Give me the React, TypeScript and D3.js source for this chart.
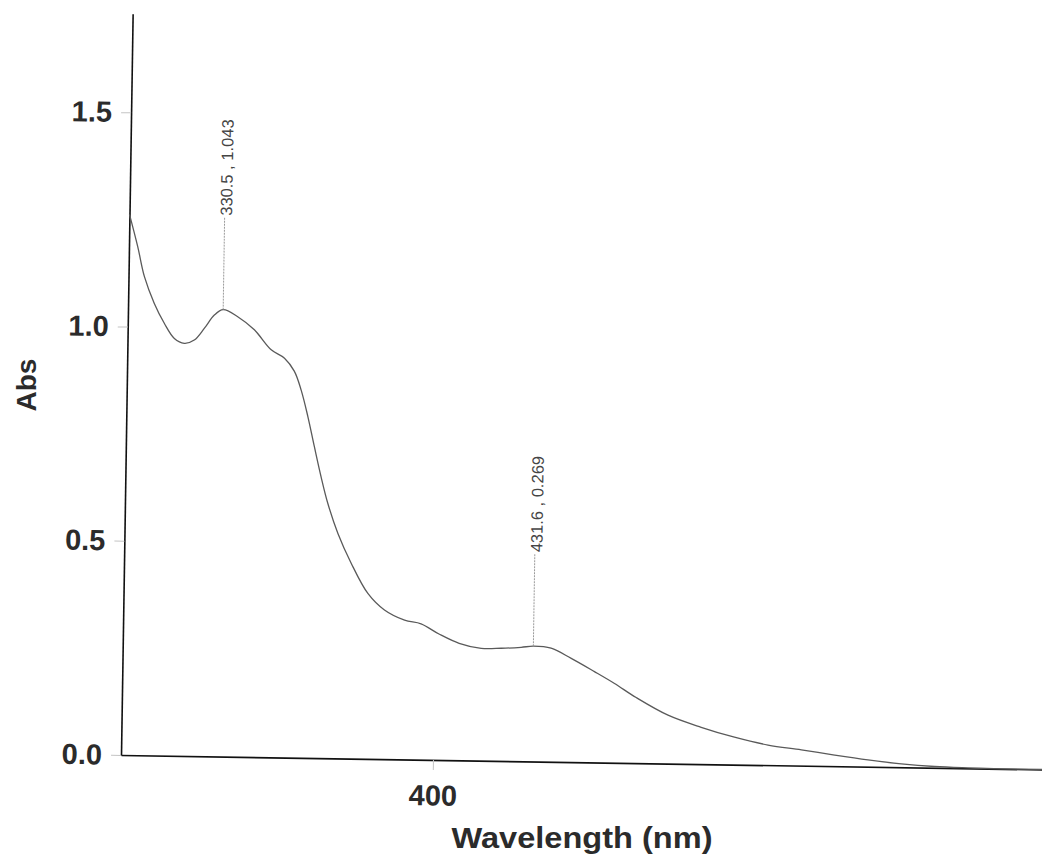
import React, { useEffect, useRef } from 'react';
import * as d3 from 'd3';

// spectrum
const wavelengths = [300, 302.8, 305.1, 308.4, 311.7, 315.0, 318.2, 321.4, 324.6, 327.7, 330.5, 335.2, 340.6, 346.1, 350.4, 353.6, 355.9, 358.2, 360.4, 362.7, 365.0, 368.4, 372.8, 378.3, 383.7, 390.2, 395.5, 401.3, 407.8, 414.9, 421.3, 427.7, 431.6, 437.3, 443.8, 451.3, 457.8, 464.8, 475.1, 485.8, 496.5, 507.3, 518.0, 528.7, 539.4, 550.1, 560.8, 571.5, 582.2, 595, 600];
const absorbance = [1.262, 1.187, 1.117, 1.055, 1.009, 0.974, 0.963, 0.971, 0.999, 1.030, 1.043, 1.027, 0.997, 0.951, 0.932, 0.902, 0.858, 0.796, 0.727, 0.657, 0.595, 0.525, 0.456, 0.386, 0.348, 0.325, 0.317, 0.294, 0.273, 0.262, 0.263, 0.266, 0.269, 0.265, 0.242, 0.212, 0.185, 0.153, 0.113, 0.086, 0.064, 0.047, 0.037, 0.026, 0.016, 0.008, 0.003, 0.001, 0, 0, 0];

const peakNm = [330.5, 431.6];
const peakAbs = [1.043, 0.269];
const peakLabels = ['330.5 , 1.043', '431.6 , 0.269'];

const yTicks = [0, 0.5, 1.0, 1.5];
const xTicks = [400];

const FONT = '"Liberation Sans", Arial, sans-serif';

const Spectrum = () => {
    const ref = useRef<SVGSVGElement>(null);

    useEffect(() => {
        const width = 1042;
        const height = 859;
        const svg = d3.select(ref.current);
        svg.selectAll('*').remove();
        svg.attr('width', width).attr('height', height);

        const origin = { x: 121, y: 755 };

        const x = d3.scaleLinear().domain([300, 600]).range([origin.x, origin.x + 936]);
        const y = d3.scaleLinear().domain([0, 1.73]).range([origin.y, origin.y - 1.73 * 428.5]);

        // the scan is tilted a little, so the plot is too
        const g = svg.append('g').attr('transform', `rotate(0.9, ${origin.x}, ${origin.y})`);

        // y axis
        const yAxis = g
            .append('g')
            .attr('transform', `translate(${origin.x},0)`)
            .call(d3.axisLeft(y).tickValues(yTicks).tickFormat(d3.format('.1f')).tickSize(10).tickSizeOuter(0).tickPadding(9));
        yAxis.select('.domain').attr('stroke', '#111').attr('stroke-width', 1.6);
        yAxis.selectAll('.tick line').attr('stroke', '#c4c4c4');
        yAxis.selectAll('.tick text')
            .attr('fill', '#2b2b2b')
            .attr('font-family', FONT)
            .attr('font-weight', 'bold')
            .attr('font-size', 29);

        // x axis
        const xAxis = g
            .append('g')
            .attr('transform', `translate(0,${origin.y})`)
            .call(d3.axisBottom(x).tickValues(xTicks).tickFormat(d3.format('d')).tickSize(10).tickSizeOuter(0).tickPadding(15));
        xAxis.select('.domain').attr('stroke', '#111').attr('stroke-width', 1.6);
        xAxis.selectAll('.tick line').attr('stroke', '#c4c4c4');
        xAxis.selectAll('.tick text')
            .attr('fill', '#2b2b2b')
            .attr('font-family', FONT)
            .attr('font-weight', 'bold')
            .attr('font-size', 29);

        // curve
        const pts = wavelengths.map((w, i) => [w, absorbance[i]] as [number, number]);
        const line = d3
            .line<[number, number]>()
            .x((d) => x(d[0]))
            .y((d) => y(d[1]))
            .curve(d3.curveCatmullRom.alpha(0.5));
        g.append('path')
            .attr('d', line(pts))
            .attr('fill', 'none')
            .attr('stroke', '#5a5a5a')
            .attr('stroke-width', 1.3);

        // peak markers
        peakNm.forEach((nm, i) => {
            const px = x(nm);
            const top = y(peakAbs[i] + 0.217);
            g.append('line')
                .attr('x1', px)
                .attr('x2', px)
                .attr('y1', y(peakAbs[i]))
                .attr('y2', top)
                .attr('stroke', '#9a9a9a')
                .attr('stroke-width', 1)
                .attr('stroke-dasharray', '2,1');
            g.append('text')
                .attr('transform', `translate(${px},${top - 1}) rotate(-90)`)
                .attr('dy', '0.45em')
                .attr('fill', '#444')
                .attr('font-family', FONT)
                .attr('font-size', 16.5)
                .text(peakLabels[i]);
        });

        // axis titles
        svg.append('text')
            .attr('x', 582)
            .attr('y', 848)
            .attr('text-anchor', 'middle')
            .attr('fill', '#2b2b2b')
            .attr('font-family', FONT)
            .attr('font-weight', 'bold')
            .attr('font-size', 29)
            .attr('textLength', 261)
            .attr('lengthAdjust', 'spacingAndGlyphs')
            .text('Wavelength (nm)');

        svg.append('text')
            .attr('transform', 'translate(36,385) rotate(-90)')
            .attr('text-anchor', 'middle')
            .attr('fill', '#2b2b2b')
            .attr('font-family', FONT)
            .attr('font-weight', 'bold')
            .attr('font-size', 28)
            .text('Abs');
    }, []);

    return <svg ref={ref} style={{ position: 'absolute', left: 0, top: 0, background: '#fff' }}></svg>;
};

export default function App() {
    return <Spectrum />;
}
